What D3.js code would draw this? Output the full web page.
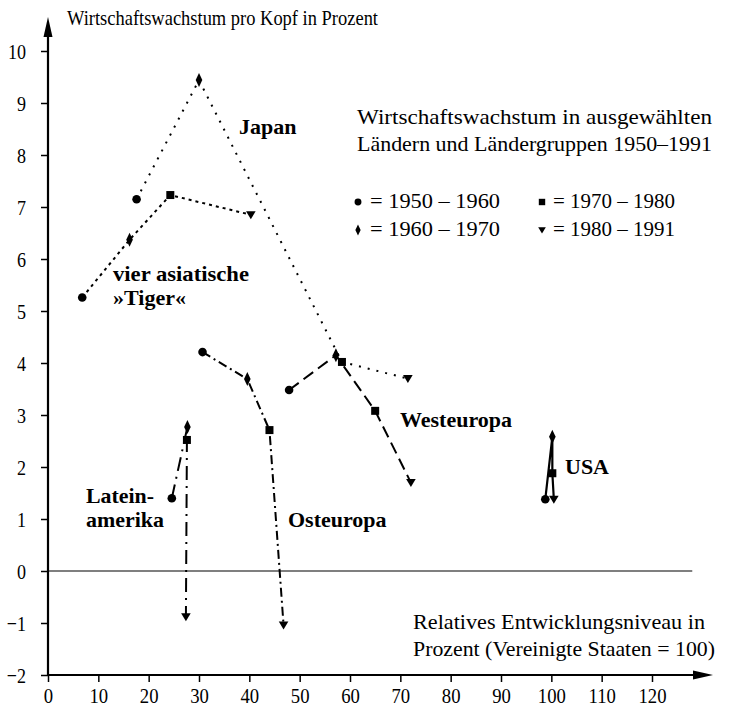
<!DOCTYPE html>
<html><head><meta charset="utf-8">
<script src="https://cdn.jsdelivr.net/npm/d3@7/dist/d3.min.js"></script>
<style>body{margin:0;background:#fff}svg{display:block}</style>
</head><body>
<svg id="chart" width="733" height="716"></svg>
<script>
// ---- data ----
const periods = ["1950 – 1960", "1960 – 1970", "1970 – 1980", "1980 – 1991"];
const symbolKinds = ["circle", "diamond", "square", "triangle"];
const regionNames = ["vier asiatische »Tiger«", "Japan", "Westeuropa", "Osteuropa", "Lateinamerika", "USA"];
const tigerX = [6.8, 16.2, 24.3, 40.3];
const tigerY = [5.26, 6.37, 7.23, 6.85];
const japanX = [17.6, 30.0, 58.4, 71.5];
const japanY = [7.15, 9.44, 4.02, 3.70];
const westX = [47.9, 57.2, 65.0, 72.1];
const westY = [3.48, 4.15, 3.08, 1.70];
const ostX = [30.7, 39.6, 44.0, 46.8];
const ostY = [4.21, 3.69, 2.71, -1.04];
const latX = [24.6, 27.7, 27.6, 27.4];
const latY = [1.40, 2.77, 2.52, -0.88];
const usaX = [98.8, 100.2, 100.2, 100.5];
const usaY = [1.38, 2.58, 1.88, 1.38];
const xTicks = [0, 10, 20, 30, 40, 50, 60, 70, 80, 90, 100, 110, 120];
const yTicks = [-2, -1, 0, 1, 2, 3, 4, 5, 6, 7, 8, 9, 10];
const yTickLabels = ["−2", "−1", "0", "1", "2", "3", "4", "5", "6", "7", "8", "9", "10"];

const series = [
  {name: regionNames[0], xs: tigerX, ys: tigerY, dash: "3,4", width: 2},
  {name: regionNames[1], xs: japanX, ys: japanY, dash: "2,7", width: 2},
  {name: regionNames[2], xs: westX, ys: westY, dash: "12,6", width: 2},
  {name: regionNames[3], xs: ostX, ys: ostY, dash: "9,4,2,4", width: 2},
  {name: regionNames[4], xs: latX, ys: latY, dash: "14,6,2,6", width: 2},
  {name: regionNames[5], xs: usaX, ys: usaY, dash: null, width: 2.2}
];

// ---- setup ----
const svg = d3.select("#chart");
const FONT = "'Liberation Serif','Times New Roman',serif";
const x = d3.scaleLinear().domain([0, 120]).range([48, 652]);
const y = d3.scaleLinear().domain([-2, 10]).range([675, 51]);

function squeeze(sel, k) {
  sel.each(function () {
    const w = this.getComputedTextLength();
    this.setAttribute("textLength", w * k);
    this.setAttribute("lengthAdjust", "spacingAndGlyphs");
  });
}
function label(px, py, s, opt = {}) {
  const t = svg.append("text")
    .attr("x", px).attr("y", py)
    .attr("font-family", FONT)
    .attr("font-size", opt.size || 22)
    .attr("font-weight", opt.bold ? "bold" : "normal")
    .attr("text-anchor", opt.anchor || "start")
    .attr("fill", "#000")
    .text(s);
  if (opt.width) {
    t.attr("textLength", opt.width).attr("lengthAdjust", "spacingAndGlyphs");
  }
  return t;
}

// zero line
svg.append("line")
  .attr("x1", x(0)).attr("x2", x(128))
  .attr("y1", y(0)).attr("y2", y(0))
  .attr("stroke", "#555").attr("stroke-width", 1.6);

// y axis
const gy = svg.append("g").attr("transform", `translate(${x(0)},0)`)
  .call(d3.axisLeft(y).tickValues(yTicks).tickSize(7).tickSizeOuter(0).tickPadding(15)
    .tickFormat((d, i) => yTickLabels[i]));
gy.select(".domain").remove();
gy.selectAll(".tick line").attr("stroke", "#000").attr("stroke-width", 1.5);
gy.selectAll(".tick text").attr("font-family", FONT).attr("font-size", 22).attr("fill", "#000");
squeeze(gy.selectAll(".tick text"), 0.82);

// x axis
const gx = svg.append("g").attr("transform", `translate(0,${y(-2)})`)
  .call(d3.axisBottom(x).tickValues(xTicks).tickSize(7).tickSizeOuter(0).tickPadding(5));
gx.select(".domain").remove();
gx.selectAll(".tick line").attr("stroke", "#000").attr("stroke-width", 1.5);
gx.selectAll(".tick text").attr("font-family", FONT).attr("font-size", 22).attr("fill", "#000");
squeeze(gx.selectAll(".tick text"), 0.85);

// axis lines with arrows
const ax0 = x(0), ay0 = y(-2);
svg.append("line").attr("x1", ax0).attr("x2", ax0).attr("y1", ay0).attr("y2", 30)
  .attr("stroke", "#000").attr("stroke-width", 2.2);
svg.append("path").attr("d", `M${ax0},17 L${ax0 - 4.5},37 L${ax0 + 4.5},37 Z`).attr("fill", "#000");
svg.append("line").attr("x1", ax0).attr("x2", 700).attr("y1", ay0).attr("y2", ay0)
  .attr("stroke", "#000").attr("stroke-width", 2.2);
svg.append("path").attr("d", `M713,${ay0} L693,${ay0 - 4.5} L693,${ay0 + 4.5} Z`).attr("fill", "#000");

// markers
function markerPath(kind, s) {
  switch (kind) {
    case "circle": return d3.symbol(d3.symbolCircle, Math.PI * (4.3 * s) ** 2)();
    case "square": { const h = 4 * s; return `M${-h},${-h}H${h}V${h}H${-h}Z`; }
    case "diamond": { const w = 3.3 * s, h = 7 * s; return `M0,${-h}L${w},0L0,${h}L${-w},0Z`; }
    case "triangle": { const w = 4.8 * s; return `M${-w},${-3.5 * s}H${w}L0,${4.5 * s}Z`; }
  }
}

// lines + points
const line = d3.line().x(d => x(d[0])).y(d => y(d[1]));
series.forEach(s => {
  const pts = s.xs.map((v, i) => [v, s.ys[i]]);
  const p = svg.append("path").attr("d", line(pts))
    .attr("fill", "none").attr("stroke", "#000").attr("stroke-width", s.width);
  if (s.dash) p.attr("stroke-dasharray", s.dash);
  pts.forEach((d, i) => {
    svg.append("path").attr("d", markerPath(symbolKinds[i], 1))
      .attr("transform", `translate(${x(d[0])},${y(d[1])})`)
      .attr("fill", "#000");
  });
});

// region labels
label(239, 134, "Japan", {bold: true});
label(113, 281, "vier asiatische", {bold: true, size: 21, width: 136});
label(113, 305, "»Tiger«", {bold: true, size: 21, width: 73});
label(400, 427, "Westeuropa", {bold: true});
label(288, 527, "Osteuropa", {bold: true});
label(86, 503, "Latein-", {bold: true, size: 21, width: 68});
label(86, 527, "amerika", {bold: true, size: 21, width: 78});
label(565, 474, "USA", {bold: true});

// titles
label(67, 25, "Wirtschaftswachstum pro Kopf in Prozent", {width: 311});
label(357, 124, "Wirtschaftswachstum in ausgewählten", {width: 355});
label(357, 151, "Ländern und Ländergruppen 1950–1991", {width: 355});
label(413, 629, "Relatives Entwicklungsniveau in", {width: 292});
label(413, 656, "Prozent (Vereinigte Staaten = 100)", {width: 302});

// legend
const legX = [358, 542], legTX = [370, 553], legY = [208, 236];
const legW = [130, 130, 122, 122];
periods.forEach((p, i) => {
  const col = i < 2 ? 0 : 1, row = i % 2;
  svg.append("path").attr("d", markerPath(symbolKinds[i], 0.8))
    .attr("transform", `translate(${legX[col]},${legY[row] - 6})`).attr("fill", "#000");
  label(legTX[col], legY[row], "= " + p, {width: legW[i]});
});
</script>
</body></html>
